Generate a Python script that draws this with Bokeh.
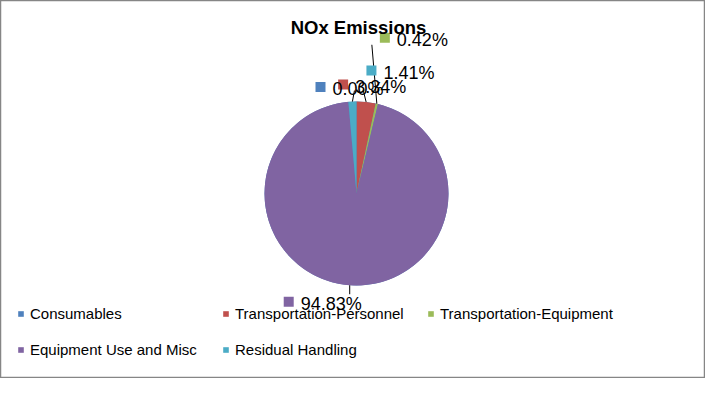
import math
from bokeh.plotting import figure
from bokeh.models import Range1d, Legend, LegendItem, ColumnDataSource, Label
from bokeh.embed import file_html
from bokeh.resources import INLINE
from bokeh.core.properties import value

# ---- data ----
categories = ["Consumables", "Transportation-Personnel", "Transportation-Equipment",
              "Equipment Use and Misc", "Residual Handling"]
shares = [0.00, 3.34, 0.42, 94.83, 1.41]
colors = ["#4F81BD", "#C0504D", "#9BBB59", "#8064A2", "#4BACC6"]
title_text = "NOx Emissions"

# ---- style / layout (pixels) ----
W, H = 705, 378
CX, CY, R = 356, 185, 92
FONT = "Liberation Sans"
# marker position of each data label relative to the slice's edge point
label_offsets = [(-36, 14.5), (-23, 17.5), (8, 66), (-61, -16.5), (19, 31)]
# leader line end relative to the slice's edge point (None = no leader)
leader_ends = [None, (-3, 12), (-5, 59), (0, -9), (2, 11)]

total = sum(shares)
starts, ends, mids = [], [], []
cum = 0.0
for s in shares:
    f0 = cum / total
    cum += s
    f1 = cum / total
    starts.append(math.pi / 2 - 2 * math.pi * f0)
    ends.append(math.pi / 2 - 2 * math.pi * f1)
    mids.append(2 * math.pi * (f0 + f1) / 2)  # clockwise from top

src = ColumnDataSource(dict(cat=categories, start=starts, end=ends, color=colors,
                            x=[CX] * len(shares), y=[CY] * len(shares)))

p = figure(width=W, height=H, output_backend="svg", toolbar_location=None,
           x_range=Range1d(0, W), y_range=Range1d(0, H),
           min_border=0, background_fill_color="white", border_fill_color="white")
p.axis.visible = False
p.grid.visible = False
p.outline_line_color = "#868686"
p.outline_line_width = 1.5

wr = p.wedge(x="x", y="y", radius=R, start_angle="start", end_angle="end",
             direction="clock", fill_color="color", line_color=None, source=src)

# data labels
ex = [CX + R * math.sin(m) for m in mids]
ey = [CY + R * math.cos(m) for m in mids]
mx = [ex[i] + label_offsets[i][0] for i in range(len(shares))]
my = [ey[i] + label_offsets[i][1] for i in range(len(shares))]
txt = ["%.2f%%" % s for s in shares]

lx0, ly0, lx1, ly1 = [], [], [], []
for i, le in enumerate(leader_ends):
    if le is None:
        continue
    lx0.append(ex[i]); ly0.append(ey[i])
    lx1.append(ex[i] + le[0]); ly1.append(ey[i] + le[1])
p.segment(x0=lx0, y0=ly0, x1=lx1, y1=ly1, line_color="black", line_width=1)

p.scatter(x=mx, y=my, marker="square", size=10, fill_color=colors, line_color=None)
p.text(x=[v + 12 for v in mx], y=[v - 2 for v in my], text=txt,
       text_font=value(FONT), text_font_size="18px", text_baseline="middle",
       text_align="left", text_color="black")

p.add_layout(Label(x=358, y=351, text=title_text, text_font=FONT, text_font_size="18.5px",
                   text_font_style="bold", text_align="center", text_baseline="middle",
                   text_color="black"))

legend = Legend(items=[LegendItem(label=c, renderers=[wr], index=i)
                       for i, c in enumerate(categories)],
                orientation="horizontal", ncols=3, location=(17, 20),
                glyph_width=7, glyph_height=7, label_standoff=6, label_width=173,
                label_height=16, spacing=19, padding=0, margin=0,
                border_line_color=None, background_fill_alpha=0,
                label_text_font=FONT, label_text_font_size="15px",
                label_text_color="black")
p.add_layout(legend)

open("out.html", "w").write(file_html(p, INLINE))
